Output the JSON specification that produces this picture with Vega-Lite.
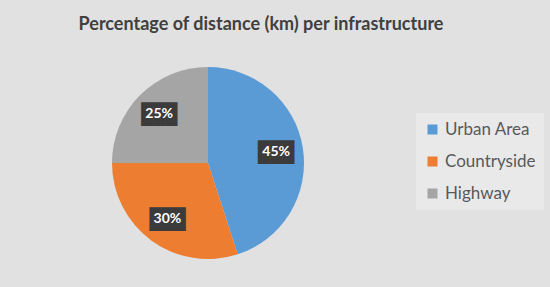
{
  "$schema": "https://vega.github.io/schema/vega-lite/v6.json",
  "width": 416,
  "height": 248,
  "autosize": {"type": "none"},
  "padding": {"top": 39, "left": 0, "right": 134, "bottom": 0},
  "background": "#e1e1e1",
  "title": {
    "text": "Percentage of distance (km) per infrastructure",
    "anchor": "middle",
    "dx": 53,
    "offset": 5,
    "font": "Lato",
    "fontSize": 18,
    "fontWeight": "bold",
    "color": "#404040"
  },
  "config": {"view": {"stroke": null}},
  "data": {
    "values": [
      {"idx": 1, "infra": "Urban Area", "share": 0.45},
      {"idx": 2, "infra": "Countryside", "share": 0.30},
      {"idx": 3, "infra": "Highway", "share": 0.25}
    ]
  },
  "encoding": {
    "theta": {"field": "share", "type": "quantitative", "stack": true},
    "order": {"field": "idx", "type": "quantitative"}
  },
  "layer": [
    {
      "mark": {"type": "arc", "outerRadius": 96},
      "encoding": {
        "color": {
          "field": "infra",
          "type": "nominal",
          "sort": ["Urban Area", "Countryside", "Highway"],
          "scale": {"domain": ["Urban Area", "Countryside", "Highway"], "range": ["#5B9BD5", "#ED7D31", "#A5A5A5"]},
          "legend": {
            "title": null,
            "orient": "none",
            "legendX": 416,
            "legendY": 74,
            "symbolType": "square",
            "symbolSize": 100,
            "symbolStrokeWidth": 0,
            "labelFont": "Lato",
            "labelFontSize": 17,
            "labelColor": "#595959",
            "rowPadding": 14,
            "padding": 8,
            "fillColor": "#e9e9e9"
          }
        }
      }
    },
    {
      "mark": {"type": "text", "radius": 69, "font": "DejaVu Sans Mono", "fontSize": 20, "color": "#3b3b3b", "baseline": "middle", "dy": 1},
      "encoding": {"text": {"value": "███"}}
    },
    {
      "mark": {"type": "text", "radius": 69, "font": "Lato", "fontSize": 14, "fontWeight": "bold", "color": "#ffffff", "baseline": "middle"},
      "encoding": {"text": {"field": "share", "type": "quantitative", "format": ".0%"}}
    }
  ]
}
